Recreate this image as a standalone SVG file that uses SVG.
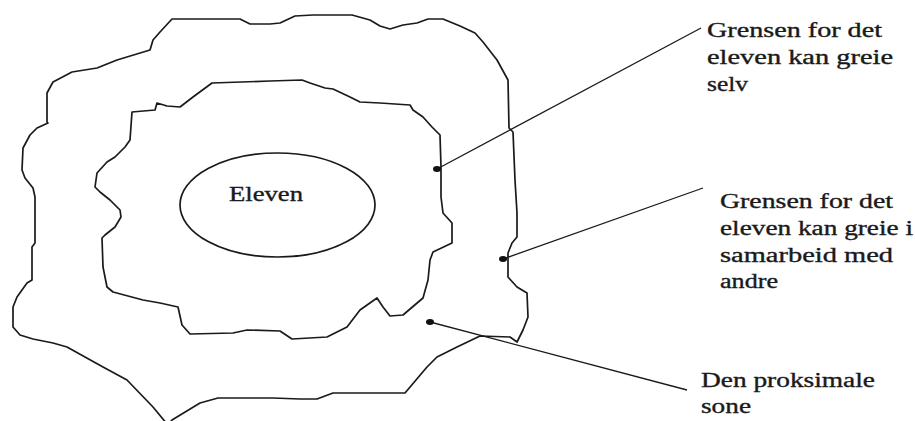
<svg xmlns="http://www.w3.org/2000/svg" width="915" height="421" viewBox="0 0 915 421">
  <style>
    .b { fill: none; stroke: #1a1a1a; stroke-width: 1.7; stroke-linejoin: round; stroke-linecap: round; }
    .c { fill: none; stroke: #1a1a1a; stroke-width: 1.3; }
    .d { fill: #111; }
    .t { font-family: 'Liberation Serif', 'Times New Roman', serif; font-size: 20px; fill: #1a1a1a; stroke: #1a1a1a; stroke-width: 0.35; }
  </style>
  <rect width="915" height="421" fill="#ffffff"/>

  <g id="outer-boundary">
    <path class="b" d="M167,424 L153,407 L127,380 L103,367 L67,347 L53,343 L33,339 L20,335 L13,327 L13,307 L17,297 L27,283 L32,280 L32,247 L35,243 L35,197 L33,188 L25,178 L22,170 L23,148 L30,135 L37,128 L48,123 L47,122 L47,93 L53,82 L72,72 L97,68 L117,60 L150,50 L153,40 L160,32 L172,19 L240,19 L250,24 L270,24 L280,23 L295,16 L313,15 L352,15 L370,20 L380,26 L390,29 L403,25 L417,23 L428,19 L443,19 L460,26 L475,33 L483,42 L497,60 L508,80 L509,128 L513,132 L515,180 L517,213 L517,237 L512,243 L508,253 L508,277 L517,287 L527,293 L528,317 L523,330 L517,342 L510,337 L480,336 L457,347 L437,357 L427,367 L405,393 L333,393 L317,399 L300,399 L273,398 L218,398 L200,403 L172,420 L169,424"/>
  </g>

  <g id="inner-boundary">
    <path class="b" d="M212,83 L270,81 L302,80 L310,83 L325,88 L333,89 L350,97 L360,102 L380,103 L410,105 L413,110 L423,117 L432,127 L440,135 L441,167 L441,197 L443,213 L452,223 L452,243 L433,252 L430,260 L428,280 L423,298 L403,315 L390,316 L383,307 L377,298 L360,310 L347,327 L327,337 L292,339 L280,331 L247,330 L233,333 L190,334 L182,325 L178,307 L160,303 L143,300 L113,292 L107,287 L103,267 L102,238 L105,235 L115,227 L121,217 L120,210 L110,200 L100,192 L95,187 L97,173 L107,162 L115,157 L125,147 L130,140 L132,112 L155,110 L157,103 L167,106 L180,107 L193,97 Z"/>
  </g>

  <g id="eleven">
    <ellipse class="b" cx="277.5" cy="205" rx="97.5" ry="52"/>
    <text class="t" x="229" y="201" textLength="74" lengthAdjust="spacingAndGlyphs">Eleven</text>
  </g>

  <g id="connectors">
    <line class="c" x1="437" y1="169" x2="701" y2="28"/>
    <line class="c" x1="503" y1="259" x2="703" y2="188"/>
    <line class="c" x1="430" y1="322" x2="687" y2="390"/>
    <ellipse class="d" cx="437" cy="169" rx="4" ry="3"/>
    <ellipse class="d" cx="503" cy="259" rx="4" ry="3"/>
    <ellipse class="d" cx="430" cy="322" rx="4" ry="3"/>
  </g>

  <g id="label-selv">
    <text class="t" x="707" y="37" textLength="175" lengthAdjust="spacingAndGlyphs">Grensen for det</text>
    <text class="t" x="707" y="64" textLength="186" lengthAdjust="spacingAndGlyphs">eleven kan greie</text>
    <text class="t" x="707" y="91" textLength="41" lengthAdjust="spacingAndGlyphs">selv</text>
  </g>

  <g id="label-samarbeid">
    <text class="t" x="720" y="208" textLength="173" lengthAdjust="spacingAndGlyphs">Grensen for det</text>
    <text class="t" x="720" y="235" textLength="193" lengthAdjust="spacingAndGlyphs">eleven kan greie i</text>
    <text class="t" x="720" y="262" textLength="173" lengthAdjust="spacingAndGlyphs">samarbeid med</text>
    <text class="t" x="720" y="288" textLength="58" lengthAdjust="spacingAndGlyphs">andre</text>
  </g>

  <g id="label-sone">
    <text class="t" x="701" y="387" textLength="174" lengthAdjust="spacingAndGlyphs">Den proksimale</text>
    <text class="t" x="701" y="413" textLength="50" lengthAdjust="spacingAndGlyphs">sone</text>
  </g>
</svg>
